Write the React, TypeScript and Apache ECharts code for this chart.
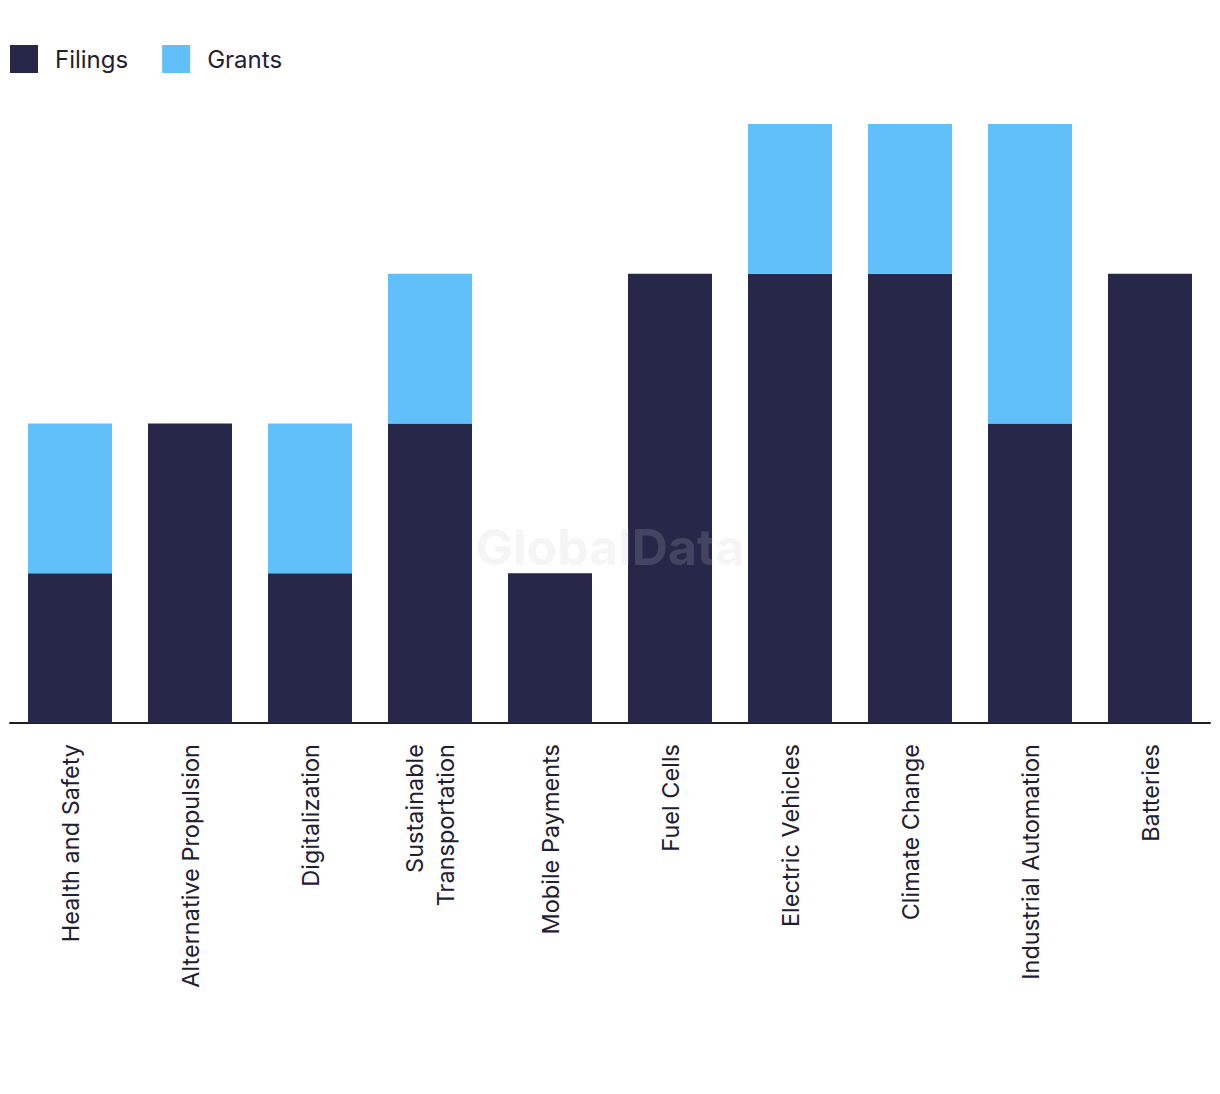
import React, { useEffect, useRef } from "react";
import * as echarts from "echarts";

const categories = [
  "Health and Safety",
  "Alternative Propulsion",
  "Digitalization",
  "Sustainable\nTransportation",
  "Mobile Payments",
  "Fuel Cells",
  "Electric Vehicles",
  "Climate Change",
  "Industrial Automation",
  "Batteries",
];
const filings = [1, 2, 1, 2, 1, 3, 3, 3, 2, 3];
const grants = [1, 0, 1, 1, 0, 0, 1, 1, 2, 0];

const FONT = "Inter, 'Noto Sans', sans-serif";
const TEXT = "#1f2033";

export default function App() {
  const ref = useRef<HTMLDivElement>(null);
  useEffect(() => {
    if (!ref.current) return;
    const chart = echarts.init(ref.current, undefined, { renderer: "svg" });
    chart.setOption({
      animation: false,
      backgroundColor: "#ffffff",
      legend: {
        left: 10,
        top: 45,
        padding: 0,
        itemWidth: 28,
        itemHeight: 28,
        itemGap: 34,
        icon: "rect",
        textStyle: { fontFamily: FONT, fontSize: 24, color: TEXT, padding: [0, 0, 0, 12] },
        data: ["Filings", "Grants"],
      },
      grid: { left: 10, right: 10, top: 124, bottom: 371, containLabel: false },
      xAxis: {
        type: "category",
        data: categories,
        axisLine: { show: true, lineStyle: { color: "#1b1c2e", width: 2 } },
        axisTick: { show: false },
        axisLabel: {
          rotate: 90,
          interval: 0,
          margin: 21,
          fontFamily: FONT,
          fontSize: 23.5,
          color: TEXT,
          lineHeight: 31,
        },
      },
      yAxis: {
        type: "value",
        min: 0,
        max: 4,
        interval: 1,
        show: false,
        splitLine: { show: false },
      },
      series: [
        {
          name: "Filings",
          type: "bar",
          stack: "total",
          data: filings,
          barWidth: 84,
          itemStyle: { color: "#272849" },
        },
        {
          name: "Grants",
          type: "bar",
          stack: "total",
          data: grants,
          barWidth: 84,
          itemStyle: { color: "#61bff9" },
        },
      ],
      graphic: [
        {
          type: "text",
          left: "center",
          top: 522,
          z: 100,
          style: {
            text: "GlobalData",
            fontFamily: "Inter, sans-serif",
            fontSize: 50,
            fontWeight: "bold",
            fill: "rgba(200,200,205,0.18)",
          },
        },
      ],
    });
    return () => chart.dispose();
  }, []);
  return (
    <div
      ref={ref}
      style={{ position: "absolute", left: 0, top: 0, width: 1220, height: 1094 }}
    />
  );
}
